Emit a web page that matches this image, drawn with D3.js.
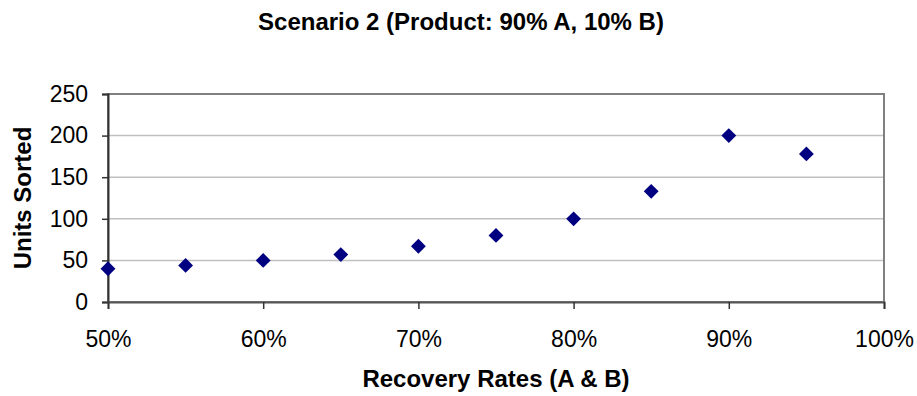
<!DOCTYPE html>
<html>
<head>
<meta charset="utf-8">
<script src="https://cdn.jsdelivr.net/npm/d3@7"></script>
<style>
  html, body { margin: 0; padding: 0; background: #fff; }
  svg { display: block; font-family: "Liberation Sans", Arial, sans-serif; }
</style>
</head>
<body>
<svg id="chart" width="917" height="396"></svg>
<script>
// Recovery rate (fraction) and units sorted for Scenario 2
const recoveryRates = [0.50, 0.55, 0.60, 0.65, 0.70, 0.75, 0.80, 0.85, 0.90, 0.95];
const unitsSorted   = [40, 44, 50, 57, 67, 80, 100, 133, 200, 178];
const xTicks = [0.5, 0.6, 0.7, 0.8, 0.9, 1.0];
const yTicks = [0, 50, 100, 150, 200, 250];

const titleText = "Scenario 2 (Product: 90% A, 10% B)";
const xTitle = "Recovery Rates (A & B)";
const yTitle = "Units Sorted";

const svg = d3.select("#chart");
const plot = { left: 108, right: 884, top: 94, bottom: 302 };

const x = d3.scaleLinear().domain([0.5, 1.0]).range([plot.left, plot.right]);
const y = d3.scaleLinear().domain([0, 250]).range([plot.bottom, plot.top]);

// horizontal gridlines
svg.append("g")
  .selectAll("line")
  .data(yTicks.filter(d => d > 0 && d < 250))
  .join("line")
  .attr("x1", plot.left).attr("x2", plot.right)
  .attr("y1", d => y(d)).attr("y2", d => y(d))
  .attr("stroke", "#c0c0c0").attr("stroke-width", 1.5);

// plot area frame
svg.append("rect")
  .attr("x", plot.left).attr("y", plot.top)
  .attr("width", plot.right - plot.left).attr("height", plot.bottom - plot.top)
  .attr("fill", "none").attr("stroke", "#808080").attr("stroke-width", 2);

// y axis
const yAxis = svg.append("g")
  .attr("transform", `translate(${plot.left},0)`)
  .call(d3.axisLeft(y).tickValues(yTicks).tickSize(6).tickPadding(14).tickFormat(d3.format("d")));
yAxis.select(".domain").attr("stroke", "#333").attr("stroke-width", 2);
yAxis.selectAll(".tick line").attr("stroke", "#333").attr("stroke-width", 1.5);
yAxis.selectAll(".tick text")
  .attr("font-size", 23).attr("fill", "#000")
  .attr("font-family", "Liberation Sans, Arial, sans-serif");

// x axis
const xAxis = svg.append("g")
  .attr("transform", `translate(0,${plot.bottom})`)
  .call(d3.axisBottom(x).tickValues(xTicks).tickSize(7).tickPadding(22).tickFormat(d3.format(".0%")));
xAxis.select(".domain").attr("stroke", "#555").attr("stroke-width", 2);
xAxis.selectAll(".tick line").attr("stroke", "#333").attr("stroke-width", 1.5);
xAxis.selectAll(".tick text")
  .attr("font-size", 23).attr("fill", "#000")
  .attr("font-family", "Liberation Sans, Arial, sans-serif");

// data markers: diamonds
const diamond = d3.symbol().type(d3.symbolSquare).size(110);
svg.append("g")
  .selectAll("path")
  .data(recoveryRates.map((r, i) => ({ r, v: unitsSorted[i] })))
  .join("path")
  .attr("d", diamond)
  .attr("transform", d => `translate(${x(d.r)},${y(d.v)}) rotate(45)`)
  .attr("fill", "#000080");

// titles
svg.append("text")
  .attr("x", 461).attr("y", 30)
  .attr("text-anchor", "middle")
  .attr("font-size", 24).attr("font-weight", "bold")
  .text(titleText);

svg.append("text")
  .attr("x", (plot.left + plot.right) / 2).attr("y", 387)
  .attr("text-anchor", "middle")
  .attr("font-size", 24).attr("font-weight", "bold")
  .text(xTitle);

svg.append("text")
  .attr("transform", `translate(31,${(plot.top + plot.bottom) / 2}) rotate(-90)`)
  .attr("text-anchor", "middle")
  .attr("font-size", 24).attr("font-weight", "bold")
  .text(yTitle);
</script>
</body>
</html>
